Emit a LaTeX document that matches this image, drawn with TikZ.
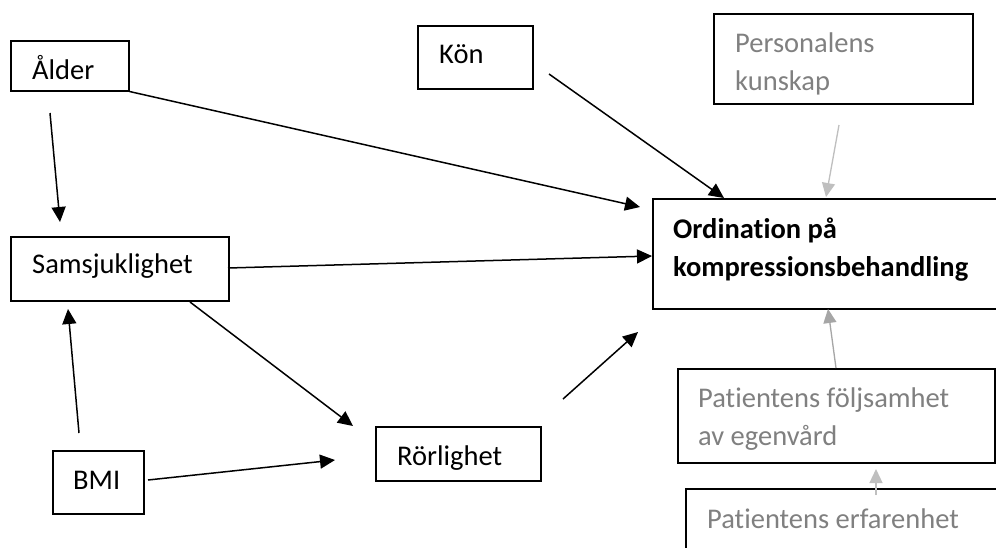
\documentclass[tikz,border=0pt]{standalone}
\usepackage{fontspec}
\setmainfont{Carlito}[Ligatures={NoCommon}]
\usetikzlibrary{arrows.meta}
\definecolor{txtgray}{RGB}{128,128,128}
\definecolor{arrlight}{RGB}{191,191,191}
\definecolor{arrmid}{RGB}{166,166,166}
\begin{document}
\begin{tikzpicture}[x=1pt,y=-1pt,
  box/.style={draw=black, line width=1.5pt, rectangle, inner sep=0pt, anchor=north west},
  lbl/.style={anchor=base west, inner sep=0pt, font=\fontsize{28.5}{38}\selectfont},
  glbl/.style={lbl, text=txtgray},
  arr/.style={line width=1.5pt, -{Triangle[length=15pt,width=14pt]}},
  garr/.style={line width=1.3pt, -{Triangle[length=14pt,width=13pt]}}]
\clip (0,0) rectangle (996,547);
\fill[white] (0,0) rectangle (996,547);

% boxes
\node[box, minimum width=118pt, minimum height=50pt] (alder) at (10,40) {};
\node[box, minimum width=218pt, minimum height=64pt] (samsj) at (10,236) {};
\node[box, minimum width=91pt, minimum height=63pt] (bmi) at (52,450) {};
\node[box, minimum width=165pt, minimum height=54pt] (rorl) at (375,426) {};
\node[box, minimum width=115pt, minimum height=63pt] (kon) at (417,25) {};
\node[box, minimum width=360pt, minimum height=110pt] (ord) at (652,198) {};
\node[box, minimum width=259pt, minimum height=90pt] (pers) at (713,13) {};
\node[box, minimum width=317pt, minimum height=94pt] (folj) at (677,368) {};
\node[box, minimum width=330pt, minimum height=80pt] (erf) at (685,488) {};

% labels
\node[lbl] (alderT) at (32,79) {Ålder};
\node[lbl] (samsjT) at (32,273) {Samsjuklighet};
\node[lbl] (bmiT) at (73,489) {BMI};
\node[lbl] (rorlT) at (397,465) {Rörlighet};
\node[lbl] (konT) at (439,63) {Kön};
\node[lbl, font=\fontsize{28.5}{38}\selectfont\bfseries] (ordT) at (673,238)
  {\begin{tabular}[t]{@{}l@{}}Ordination på\\kompressionsbehandling\end{tabular}};
\node[glbl] (persT) at (735,52)
  {\begin{tabular}[t]{@{}l@{}}Personalens\\kunskap\end{tabular}};
\node[glbl] (foljT) at (698,407)
  {\begin{tabular}[t]{@{}l@{}}Patientens följsamhet\\av egenvård\end{tabular}};
\node[glbl] (erfT) at (707,528) {Patientens erfarenhet};

% connector end points
\coordinate (a1) at (alder.south east);
\coordinate (o1) at (640,207);
\coordinate (a2) at (50,113);
\coordinate (s1) at (60,222);
\coordinate (k1) at (549,74);
\coordinate (o2) at (724,198);
\coordinate (p1) at (839,125);
\coordinate (o3) at (826,197);
\coordinate (s2) at (228,268);
\coordinate (o4) at (652,256);
\coordinate (s3) at (190,302);
\coordinate (r1) at (353,426);
\coordinate (b1) at (79,433);
\coordinate (s4) at (68,309);
\coordinate (b2) at (148,480);
\coordinate (r2) at (335,460);
\coordinate (r3) at (563,399);
\coordinate (o5) at (638,332);
\coordinate (f1) at (836,368);
\coordinate (o6) at (828,309);
\coordinate (e1) at (876,495);
\coordinate (f2) at (876,469);

% connectors
\draw[arr] (a1) -- (o1);
\draw[arr] (a2) -- (s1);
\draw[arr] (k1) -- (o2);
\draw[arr] (s2) -- (o4);
\draw[arr] (s3) -- (r1);
\draw[arr] (b1) -- (s4);
\draw[arr] (b2) -- (r2);
\draw[arr] (r3) -- (o5);
\draw[garr, draw=arrlight, fill=arrlight] (p1) -- (o3);
\draw[garr, draw=arrmid, fill=arrmid] (f1) -- (o6);
\draw[garr, draw=arrlight, fill=arrlight] (e1) -- (f2);
\end{tikzpicture}
\end{document}
